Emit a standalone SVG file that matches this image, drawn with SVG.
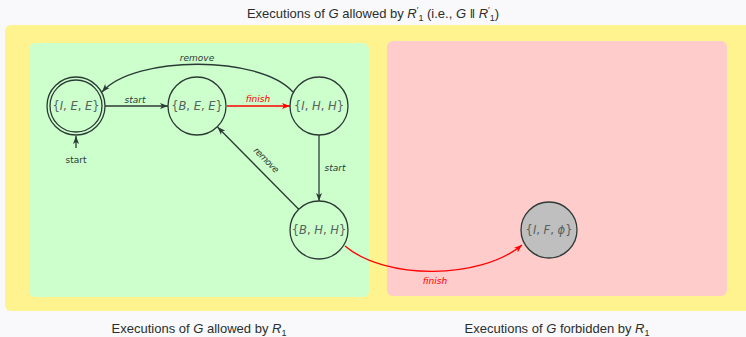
<svg xmlns="http://www.w3.org/2000/svg" width="746" height="337" viewBox="0 0 746 337">
<defs>
<style>
.cap{font-family:"Liberation Sans","DejaVu Sans",sans-serif;font-size:13px;fill:#2a2f2d;text-anchor:middle}
.it{font-style:italic}
.node{fill:none;stroke:#2c3a36;stroke-width:1.3}
.nl{font-family:"DejaVu Sans","Liberation Sans",sans-serif;font-size:11.5px;fill:#56625e;text-anchor:middle}
.el{font-family:"DejaVu Sans","Liberation Sans",sans-serif;font-size:9px;font-style:italic;fill:#2c3a36;text-anchor:middle}
.up{font-style:normal}
.red{fill:#ff0000}
.e{fill:none;stroke:#2c3a36;stroke-width:1.3}
.er{fill:none;stroke:#ff0000;stroke-width:1.3}
</style>
<marker id="ad" markerUnits="userSpaceOnUse" markerWidth="9" markerHeight="7" refX="8" refY="3.5" orient="auto">
<path d="M0,0.5 L8,3.5 L0,6.5 L2,3.5 z" fill="#2c3a36"/>
</marker>
<marker id="ar" markerUnits="userSpaceOnUse" markerWidth="9" markerHeight="7" refX="8" refY="3.5" orient="auto">
<path d="M0,0.5 L8,3.5 L0,6.5 L2,3.5 z" fill="#ff0000"/>
</marker>
</defs>
<rect x="0" y="0" width="746" height="337" fill="#f9f9fb"/>
<rect x="5" y="25" width="750" height="286" rx="6" fill="#fff38f"/>
<rect x="29" y="43" width="340" height="254" rx="6" fill="#ccffcc"/>
<rect x="387" y="41" width="340" height="255" rx="6" fill="#ffcccc"/>

<text class="cap" x="373" y="18">Executions of <tspan class="it">G</tspan> allowed by <tspan class="it">R</tspan><tspan font-size="9" dy="-5">′</tspan><tspan font-size="9" dy="8">1</tspan><tspan dy="-3"> (i.e., </tspan><tspan class="it">G</tspan> ‖ <tspan class="it">R</tspan><tspan font-size="9" dy="-5">′</tspan><tspan font-size="9" dy="8">1</tspan><tspan dy="-3">)</tspan></text>
<text class="cap" x="199" y="333">Executions of <tspan class="it">G</tspan> allowed by <tspan class="it">R</tspan><tspan font-size="9" dy="3">1</tspan></text>
<text class="cap" x="557" y="333">Executions of <tspan class="it">G</tspan> forbidden by <tspan class="it">R</tspan><tspan font-size="9" dy="3">1</tspan></text>

<g id="edges">
<line class="e" x1="105" y1="106" x2="168" y2="106" marker-end="url(#ad)"/>
<line class="er" x1="227" y1="106" x2="290" y2="106" marker-end="url(#ar)"/>
<line class="e" x1="319" y1="135" x2="319" y2="201" marker-end="url(#ad)"/>
<line class="e" x1="298.7" y1="209.3" x2="217.5" y2="127" marker-end="url(#ad)"/>
<path class="e" d="M293,92 C260,55 135,55 102,92" marker-end="url(#ad)"/>
<path class="er" d="M345,246 C385,280 480,280 522,245" marker-end="url(#ar)"/>
<line class="e" x1="76" y1="148" x2="76" y2="136" marker-end="url(#ad)"/>
<text class="el" x="135" y="103">start</text>
<text class="el red" x="258" y="102">finish</text>
<text class="el" x="197" y="61">remove</text>
<text class="el" x="335" y="171">start</text>
<text class="el" transform="translate(264,162) rotate(45)" letter-spacing="-0.6">remove</text>
<text class="el red" x="435" y="284">finish</text>
<text class="el up" x="76" y="163">start</text>
</g>

<g id="n_IEE">
<circle class="node" cx="76" cy="106" r="29"/>
<circle class="node" cx="76" cy="106" r="26"/>
<text class="nl" x="76" y="110">{<tspan class="it">I</tspan>, <tspan class="it">E</tspan>, <tspan class="it">E</tspan>}</text>
</g>
<g id="n_BEE">
<circle class="node" cx="197" cy="106" r="29"/>
<text class="nl" x="197" y="110">{<tspan class="it">B</tspan>, <tspan class="it">E</tspan>, <tspan class="it">E</tspan>}</text>
</g>
<g id="n_IHH">
<circle class="node" cx="319" cy="106" r="29"/>
<text class="nl" x="319" y="110">{<tspan class="it">I</tspan>, <tspan class="it">H</tspan>, <tspan class="it">H</tspan>}</text>
</g>
<g id="n_BHH">
<circle class="node" cx="319" cy="230" r="29"/>
<text class="nl" x="319" y="234">{<tspan class="it">B</tspan>, <tspan class="it">H</tspan>, <tspan class="it">H</tspan>}</text>
</g>
<g id="n_IFphi">
<circle class="node" cx="549" cy="230" r="28" style="fill:#bfbfbf"/>
<text class="nl" x="549" y="234">{<tspan class="it">I</tspan>, <tspan class="it">F</tspan>, <tspan class="it">ϕ</tspan>}</text>
</g>
</svg>
